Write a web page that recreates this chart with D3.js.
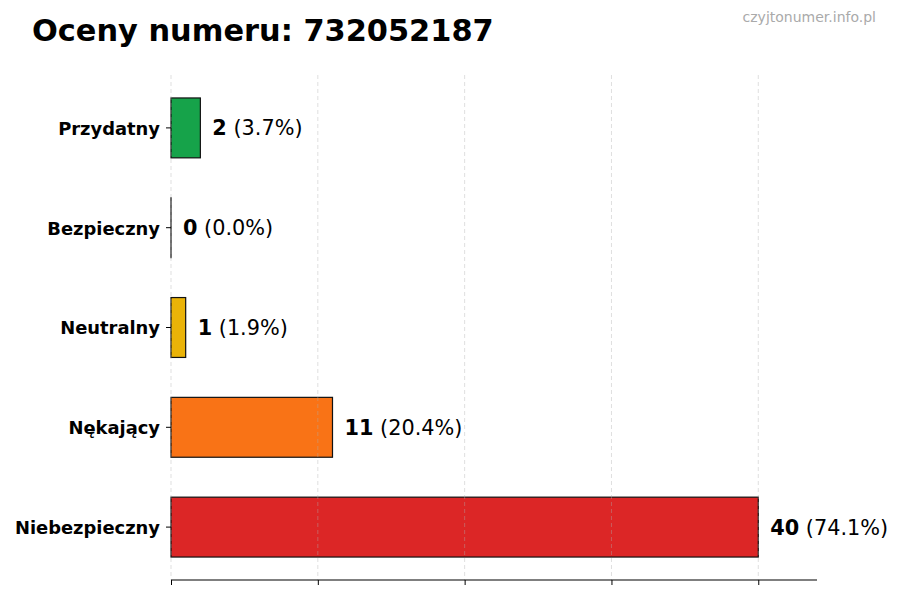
<!DOCTYPE html>
<html>
<head>
<meta charset="utf-8">
<script src="https://cdn.jsdelivr.net/npm/d3@7"></script>
<style>
  body { margin: 0; background: #fff; }
  svg { font-family: "DejaVu Sans", sans-serif; }
</style>
</head>
<body>
<div id="chart"></div>
<script>
var kategorie = ["Przydatny", "Bezpieczny", "Neutralny", "Nękający", "Niebezpieczny"];
var liczby = [2, 0, 1, 11, 40];
var procenty = ["3.7%", "0.0%", "1.9%", "20.4%", "74.1%"];
var kolory = ["#16a34a", "#6b7280", "#eab308", "#f97316", "#dc2626"];
var xTicks = [0, 10, 20, 30, 40];

var width = 900, height = 600;
var svg = d3.select("#chart").append("svg").attr("width", width).attr("height", height);

var x = d3.scaleLinear().domain([0, 44]).range([171, 817]);
var y = d3.scaleBand().domain(kategorie).range([78, 577]).paddingInner(0.4).paddingOuter(0.2);

// tytul
svg.append("text")
  .attr("x", 32).attr("y", 41)
  .style("font-size", "30.4px").style("font-weight", "bold")
  .text("Oceny numeru: 732052187");

svg.append("text")
  .attr("x", 876).attr("y", 22)
  .attr("text-anchor", "end")
  .style("font-size", "14px").style("fill", "#aaaaaa")
  .text("czyjtonumer.info.pl");

// slupki (zero tez rysujemy jako cienka kreske)
svg.selectAll("rect.bar")
  .data(kategorie)
  .enter().append("rect")
  .attr("class", "bar")
  .attr("x", x(0))
  .attr("y", function(d) { return y(d); })
  .attr("width", function(d, i) { return Math.max(x(liczby[i]) - x(0), 0.01); })
  .attr("height", y.bandwidth())
  .style("fill", function(d, i) { return kolory[i]; })
  .style("stroke", "#111")
  .style("stroke-width", 1.2);

// siatka
svg.selectAll("line.grid")
  .data(xTicks)
  .enter().append("line")
  .attr("class", "grid")
  .attr("x1", function(d) { return x(d); })
  .attr("x2", function(d) { return x(d); })
  .attr("y1", 75).attr("y2", 580)
  .style("stroke", "#b0b0b0")
  .style("stroke-opacity", 0.5)
  .style("stroke-dasharray", "4,3")
  .style("stroke-width", 0.8);

// os x
var xAxis = svg.append("g")
  .attr("transform", "translate(0,580)")
  .call(d3.axisBottom(x).tickValues(xTicks).tickSize(5).tickFormat(""));
xAxis.select(".domain").attr("d", "M" + x(0) + ",0H" + x(44)).style("stroke-width", 1.2);
xAxis.selectAll(".tick line").style("stroke-width", 1);

// os y
var yAxis = svg.append("g")
  .attr("transform", "translate(" + x(0) + ",0)")
  .call(d3.axisLeft(y).tickSize(5).tickPadding(6));
yAxis.select(".domain").remove();
yAxis.selectAll(".tick text")
  .attr("dy", "0.38em")
  .style("font-family", "DejaVu Sans")
  .style("font-size", "17.9px")
  .style("font-weight", "bold")
  .style("fill", "#000");

// etykiety wartosci
var lab = svg.selectAll("text.val")
  .data(kategorie)
  .enter().append("text")
  .attr("class", "val")
  .attr("x", function(d, i) { return x(liczby[i]) + 12; })
  .attr("y", function(d) { return y(d) + y.bandwidth() / 2; })
  .attr("dy", "0.36em")
  .style("font-size", "20.8px");
lab.append("tspan").style("font-weight", "bold").text(function(d, i) { return liczby[i]; });
lab.append("tspan").text(function(d, i) { return " (" + procenty[i] + ")"; });
</script>
</body>
</html>
